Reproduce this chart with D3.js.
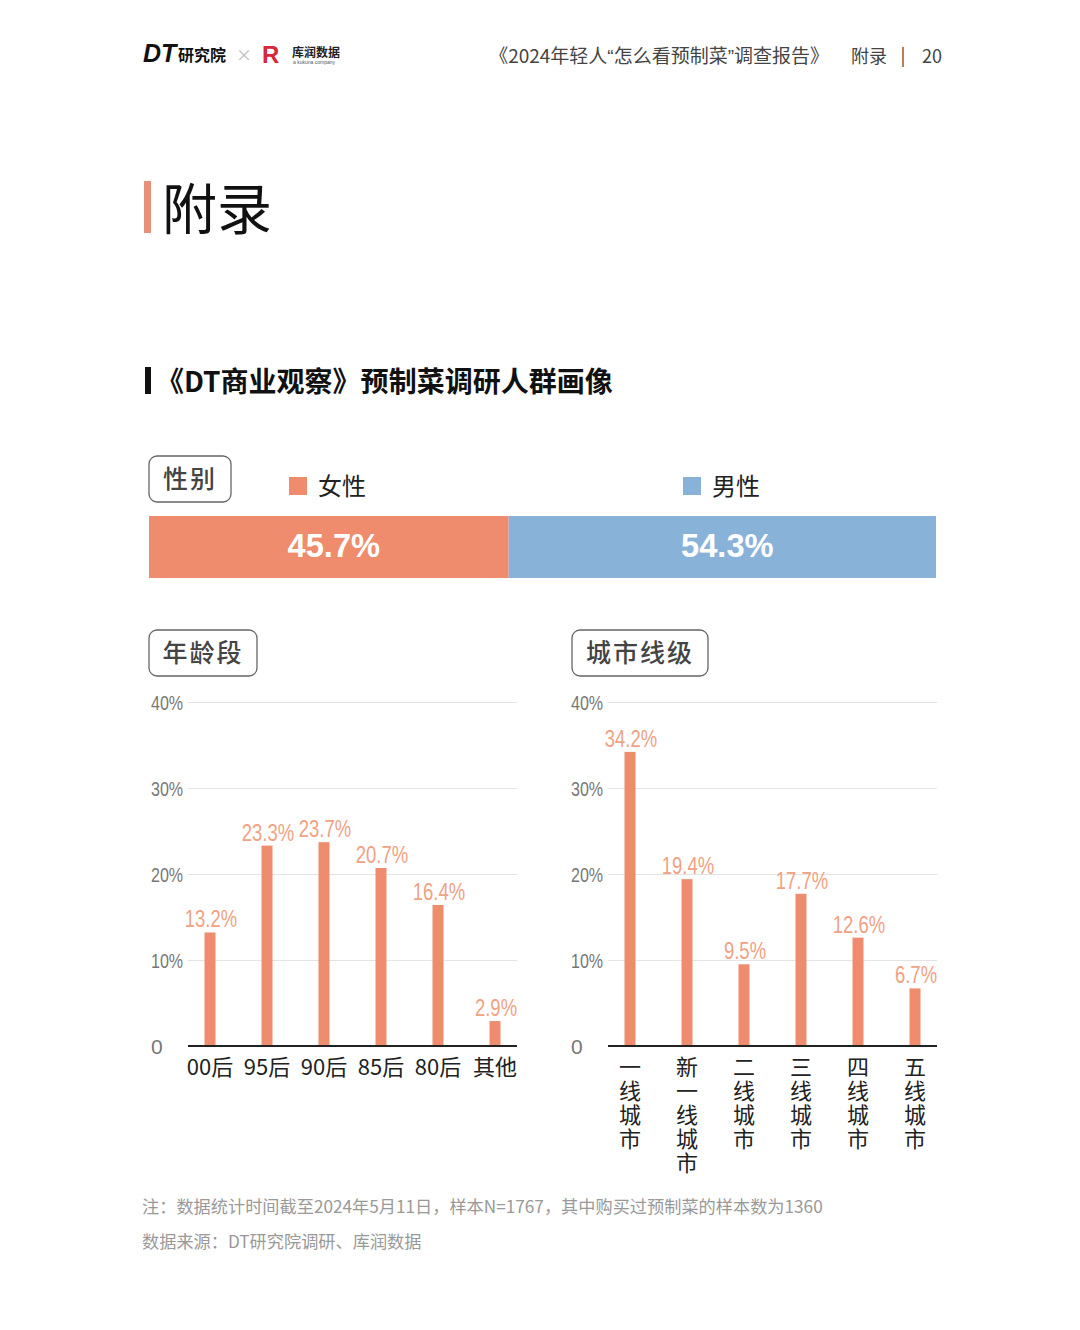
<!DOCTYPE html>
<html lang="zh">
<head>
  <meta charset="utf-8">
  <title>预制菜调研人群画像</title>
  <script src="https://cdn.jsdelivr.net/npm/d3@7"></script>
  <style>
    body { margin: 0; background: #fff; }
    svg { display: block; }
  </style>
</head>
<body>
  <svg width="1080" height="1330" id="mainsvg"></svg>
  <script>
    // 数据
    const genderLabels = ['女性', '男性'];
    const genderValues = [45.7, 54.3];
    const ageCats = ['00后', '95后', '90后', '85后', '80后', '其他'];
    const ageValues = [13.2, 23.3, 23.7, 20.7, 16.4, 2.9];
    const cityCats = ['一线城市', '新一线城市', '二线城市', '三线城市', '四线城市', '五线城市'];
    const cityValues = [34.2, 19.4, 9.5, 17.7, 12.6, 6.7];
    const yTicks = [0, 10, 20, 30, 40];

    const orange = '#EE8C6D';
    const blue = '#89B2D9';
    const labelOrange = '#F0A283';
    const CN = '"Noto Sans CJK SC", "Noto Sans", sans-serif';
    const NUM = '"Liberation Sans", "DejaVu Sans", sans-serif';

    const svg = d3.select('#mainsvg');

    // 压窄数字文字（模拟窄体字）
    function narrow(sel, perChar) {
      sel.each(function () {
        const t = d3.select(this);
        const n = t.text().length;
        if (n > 1) t.attr('textLength', perChar * n).attr('lengthAdjust', 'spacingAndGlyphs');
      });
    }

    // 页眉
    const head = svg.append('g');
    head.append('text').text('DT').attr('x', 143).attr('y', 62)
      .attr('font-family', NUM).attr('font-weight', 900)
      .attr('font-style', 'italic').attr('font-size', 25).attr('fill', '#111');
    head.append('text').text('研究院').attr('x', 178).attr('y', 61)
      .attr('font-family', CN).attr('font-weight', 700).attr('font-size', 16).attr('fill', '#111');
    head.append('text').text('×').attr('x', 236).attr('y', 61)
      .attr('font-family', CN).attr('font-size', 16).attr('fill', '#bbb');
    head.append('text').text('R').attr('x', 262).attr('y', 63)
      .attr('font-family', NUM).attr('font-weight', 900)
      .attr('font-size', 24).attr('fill', '#D8263A');
    head.append('text').text('库润数据').attr('x', 292).attr('y', 57)
      .attr('font-family', CN).attr('font-weight', 700).attr('font-size', 12).attr('fill', '#222');
    head.append('text').text('a kukuna company').attr('x', 293).attr('y', 64)
      .attr('font-family', NUM).attr('font-size', 5).attr('fill', '#555');

    const ht = head.append('text').attr('x', 829).attr('y', 63)
      .attr('text-anchor', 'end').attr('font-family', CN).attr('font-size', 19).attr('fill', '#444');
    ht.append('tspan').text('《2024年轻人');
    ht.append('tspan').text('“').attr('font-family', NUM);
    ht.append('tspan').text('怎么看预制菜');
    ht.append('tspan').text('”').attr('font-family', NUM);
    ht.append('tspan').text('调查报告》');
    head.append('text').text('附录').attr('x', 851).attr('y', 63)
      .attr('font-family', CN).attr('font-size', 18).attr('fill', '#444');
    head.append('text').text('|').attr('x', 903).attr('y', 62).attr('text-anchor', 'middle')
      .attr('font-family', CN).attr('font-size', 18).attr('fill', '#444');
    head.append('text').text('20').attr('x', 942).attr('y', 63).attr('text-anchor', 'end')
      .attr('font-family', CN).attr('font-size', 18).attr('fill', '#444');

    // 大标题
    svg.append('rect').attr('x', 144).attr('y', 181).attr('width', 7).attr('height', 52).attr('fill', '#E8907A');
    svg.append('text').text('附录').attr('x', 162).attr('y', 229)
      .attr('font-family', CN).attr('font-size', 55).attr('fill', '#111');

    // 小标题
    svg.append('rect').attr('x', 145).attr('y', 367).attr('width', 6).attr('height', 27).attr('fill', '#111');
    svg.append('text').text('《DT商业观察》预制菜调研人群画像').attr('x', 156).attr('y', 392)
      .attr('font-family', CN).attr('font-weight', 700).attr('font-size', 28).attr('fill', '#111');

    // 圆角标签
    function badge(x, y, w, label) {
      svg.append('rect').attr('x', x).attr('y', y).attr('width', w).attr('height', 46)
        .attr('rx', 8).attr('fill', '#fff').attr('stroke', '#666').attr('stroke-width', 1.3);
      svg.append('text').text(label).attr('x', x + w / 2).attr('y', y + 32)
        .attr('text-anchor', 'middle').attr('font-family', CN).attr('font-weight', 500)
        .attr('font-size', 25).attr('letter-spacing', 2).attr('fill', '#444');
    }
    badge(149, 456, 82, '性别');
    badge(149, 630, 108, '年龄段');
    badge(572, 630, 136, '城市线级');

    // 性别堆叠条
    const gx = d3.scaleLinear().domain([0, 100]).range([149, 936]);
    const genderColors = [orange, blue];
    let acc = 0;
    const gData = genderValues.map((v, i) => {
      const d = { label: genderLabels[i], value: v, start: acc, color: genderColors[i] };
      acc += v;
      return d;
    });
    svg.selectAll('.gbar').data(gData).join('rect').attr('class', 'gbar')
      .attr('x', d => gx(d.start)).attr('y', 516)
      .attr('width', d => gx(d.start + d.value) - gx(d.start)).attr('height', 62)
      .attr('fill', d => d.color);
    svg.selectAll('.glab').data(gData).join('text').attr('class', 'glab')
      .text(d => d.value.toFixed(1) + '%')
      .attr('x', d => gx(d.start + d.value / 2) + 5).attr('y', 557)
      .attr('text-anchor', 'middle').attr('font-family', NUM).attr('font-weight', 700)
      .attr('font-size', 34).attr('fill', '#fff')
      .call(narrow, 18.5);
    // 图例
    const legX = [289, 683];
    gData.forEach((d, i) => {
      svg.append('rect').attr('x', legX[i]).attr('y', 477).attr('width', 18).attr('height', 18).attr('fill', d.color);
      svg.append('text').text(d.label).attr('x', legX[i] + 29).attr('y', 495)
        .attr('font-family', CN).attr('font-size', 24).attr('fill', '#222');
    });

    // 柱状图
    const y = d3.scaleLinear().domain([0, 40]).range([1046, 702]);

    function barChart(cats, values, left, right, firstC, lastC, vertical) {
      const g = svg.append('g');
      const x = d3.scalePoint().domain(cats).range([firstC, lastC]);
      const yAxis = d3.axisLeft(y).tickValues(yTicks)
        .tickSize(-(right - left)).tickPadding(0)
        .tickFormat(d => d === 0 ? '0' : d + '%');
      const ax = g.append('g').attr('transform', `translate(${left},0)`).call(yAxis);
      ax.select('.domain').remove();
      ax.selectAll('.tick line').attr('stroke', '#e4e4e4').attr('stroke-width', 1.2);
      ax.selectAll('.tick text').attr('x', -37).attr('dy', '0.35em')
        .attr('text-anchor', 'start').attr('font-family', NUM)
        .attr('font-size', 21).attr('fill', '#777')
        .call(narrow, 10.7);
      // 柱子
      g.selectAll('.bar').data(values).join('rect').attr('class', 'bar')
        .attr('x', (d, i) => x(cats[i]) - 5.5).attr('width', 11)
        .attr('y', d => y(d)).attr('height', d => y(0) - y(d))
        .attr('fill', orange);
      // 数值标签（横向压缩）
      g.selectAll('.val').data(values).join('text').attr('class', 'val')
        .text(d => d.toFixed(1) + '%')
        .attr('transform', (d, i) => `translate(${x(cats[i]) + 1},${y(d) - 5}) scale(0.77,1)`)
        .attr('text-anchor', 'middle').attr('font-family', NUM)
        .attr('font-size', 24).attr('fill', labelOrange);
      // 基线
      g.append('line').attr('x1', left).attr('x2', right).attr('y1', y(0)).attr('y2', y(0))
        .attr('stroke', '#222').attr('stroke-width', 2);
      // 类别标签
      cats.forEach(c => {
        if (vertical) {
          g.append('text').text(c).attr('x', x(c)).attr('y', 1056)
            .attr('writing-mode', 'vertical-rl').attr('text-orientation', 'upright')
            .attr('letter-spacing', 2).attr('font-family', CN)
            .attr('font-size', 22).attr('fill', '#222');
        } else {
          g.append('text').text(c).attr('x', x(c)).attr('y', 1075)
            .attr('text-anchor', 'middle').attr('font-family', CN)
            .attr('font-size', 22).attr('fill', '#222');
        }
      });
    }
    barChart(ageCats, ageValues, 188, 517, 210, 495, false);
    barChart(cityCats, cityValues, 608, 937, 630, 915, true);

    // 注释
    svg.append('text').text('注：数据统计时间截至2024年5月11日，样本N=1767，其中购买过预制菜的样本数为1360')
      .attr('x', 142).attr('y', 1213).attr('font-family', CN).attr('font-size', 17.2).attr('fill', '#999');
    svg.append('text').text('数据来源：DT研究院调研、库润数据')
      .attr('x', 142).attr('y', 1248).attr('font-family', CN).attr('font-size', 17.2).attr('fill', '#999');
  </script>
</body>
</html>
